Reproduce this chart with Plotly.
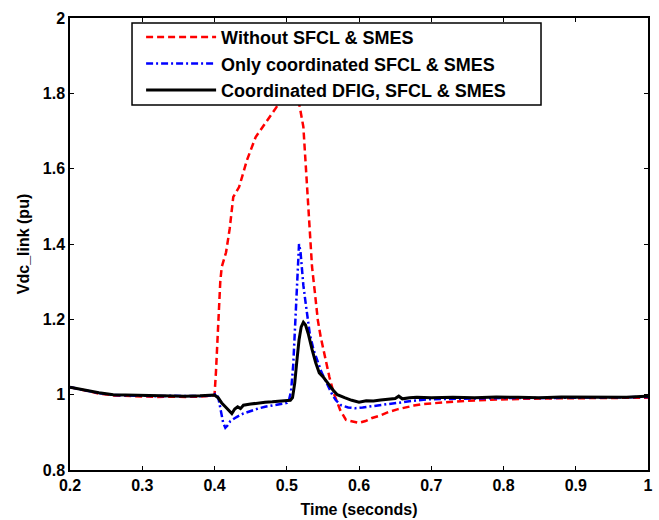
import plotly.graph_objects as go

# ---- data ----
t_red = [0.200, 0.220, 0.240, 0.260, 0.280, 0.300, 0.320, 0.340, 0.360, 0.380, 0.395, 0.400,
         0.402, 0.405, 0.408, 0.410, 0.413, 0.416, 0.421, 0.426, 0.434, 0.445, 0.457, 0.471,
         0.486, 0.495, 0.505, 0.510, 0.514, 0.518, 0.523, 0.529, 0.535, 0.539, 0.543, 0.547,
         0.553, 0.559, 0.565, 0.574, 0.582, 0.591, 0.600, 0.609, 0.618, 0.630, 0.641, 0.653,
         0.665, 0.676, 0.688, 0.705, 0.723, 0.750, 0.776, 0.800, 0.830, 0.860, 0.890, 0.920,
         0.950, 0.975, 1.000]
v_red = [1.020, 1.011, 1.003, 0.998, 0.996, 0.995, 0.994, 0.995, 0.994, 0.995, 0.996, 0.998,
         1.060, 1.200, 1.300, 1.339, 1.360, 1.378, 1.440, 1.525, 1.551, 1.623, 1.684, 1.721,
         1.764, 1.790, 1.820, 1.830, 1.800, 1.764, 1.711, 1.517, 1.339, 1.270, 1.198, 1.153,
         1.100, 1.047, 1.004, 0.959, 0.933, 0.928, 0.925, 0.930, 0.938, 0.945, 0.954, 0.961,
         0.967, 0.971, 0.975, 0.978, 0.981, 0.984, 0.986, 0.988, 0.989, 0.990, 0.990, 0.991,
         0.991, 0.992, 0.992]

t_blue = [0.200, 0.220, 0.240, 0.260, 0.280, 0.300, 0.320, 0.340, 0.360, 0.380, 0.395, 0.400,
          0.403, 0.406, 0.409, 0.412, 0.415, 0.418, 0.422, 0.430, 0.440, 0.450, 0.460, 0.470,
          0.480, 0.490, 0.500, 0.503, 0.506, 0.509, 0.512, 0.515, 0.517, 0.519, 0.521, 0.523,
          0.525, 0.528, 0.532, 0.537, 0.542, 0.548, 0.553, 0.558, 0.563, 0.568, 0.575, 0.585,
          0.595, 0.605, 0.620, 0.640, 0.660, 0.680, 0.700, 0.750, 0.800, 0.850, 0.900, 0.950,
          0.980, 1.000]
v_blue = [1.020, 1.012, 1.004, 0.999, 0.998, 0.997, 0.996, 0.997, 0.996, 0.996, 0.998, 1.000,
          1.003, 0.985, 0.950, 0.925, 0.912, 0.918, 0.930, 0.940, 0.950, 0.957, 0.963, 0.968,
          0.972, 0.975, 0.978, 0.985, 1.010, 1.080, 1.200, 1.330, 1.400, 1.380, 1.320, 1.290,
          1.260, 1.210, 1.160, 1.120, 1.090, 1.060, 1.040, 1.020, 1.000, 0.985, 0.972, 0.966,
          0.964, 0.966, 0.970, 0.975, 0.980, 0.985, 0.988, 0.990, 0.991, 0.991, 0.992, 0.992,
          0.993, 0.994]

t_black = [0.200, 0.220, 0.240, 0.260, 0.280, 0.300, 0.320, 0.340, 0.360, 0.380, 0.395, 0.400,
           0.405, 0.410, 0.415, 0.420, 0.424, 0.428, 0.432, 0.436, 0.440, 0.450, 0.460, 0.470,
           0.480, 0.490, 0.500, 0.505, 0.508, 0.511, 0.514, 0.517, 0.520, 0.523, 0.526, 0.530,
           0.535, 0.540, 0.545, 0.550, 0.555, 0.560, 0.565, 0.570, 0.575, 0.580, 0.590, 0.600,
           0.610, 0.620, 0.630, 0.640, 0.650, 0.655, 0.660, 0.670, 0.680, 0.700, 0.730, 0.760,
           0.790, 0.820, 0.850, 0.880, 0.910, 0.940, 0.970, 0.990, 1.000]
v_black = [1.020, 1.012, 1.005, 1.000, 0.999, 0.998, 0.997, 0.998, 0.996, 0.997, 0.998, 0.999,
           0.992, 0.978, 0.968, 0.958, 0.950, 0.962, 0.968, 0.963, 0.972, 0.975, 0.978, 0.980,
           0.981, 0.982, 0.983, 0.985, 0.992, 1.030, 1.090, 1.145, 1.180, 1.192, 1.185, 1.160,
           1.120, 1.085, 1.058, 1.048, 1.035, 1.022, 1.010, 1.000, 0.995, 0.992, 0.985, 0.980,
           0.984, 0.983, 0.986, 0.988, 0.990, 0.996, 0.989, 0.992, 0.993, 0.992, 0.993, 0.992,
           0.994, 0.993, 0.992, 0.994, 0.993, 0.994, 0.993, 0.995, 0.996]

series_names = ["Without SFCL & SMES", "Only coordinated SFCL & SMES", "Coordinated DFIG, SFCL & SMES"]
x_ticks = [0.2, 0.3, 0.4, 0.5, 0.6, 0.7, 0.8, 0.9, 1.0]
x_ticklabels = ["0.2", "0.3", "0.4", "0.5", "0.6", "0.7", "0.8", "0.9", "1"]
y_ticks = [0.8, 1.0, 1.2, 1.4, 1.6, 1.8, 2.0]
y_ticklabels = ["0.8", "1", "1.2", "1.4", "1.6", "1.8", "2"]

FONT = "Liberation Sans, Arial, sans-serif"

fig = go.Figure()
fig.add_trace(go.Scatter(x=t_red, y=v_red, mode="lines", name=series_names[0],
                         line=dict(color="#ff0000", width=2.5, dash="7px,4px")))
fig.add_trace(go.Scatter(x=t_blue, y=v_blue, mode="lines", name=series_names[1],
                         line=dict(color="#0000ff", width=2.5, dash="7px,3px,2px,3px")))
fig.add_trace(go.Scatter(x=t_black, y=v_black, mode="lines", name=series_names[2],
                         line=dict(color="#000000", width=3)))

axis_common = dict(showline=True, linecolor="black", linewidth=1.5, mirror="ticks",
                   ticks="inside", ticklen=4, tickwidth=1, tickcolor="black",
                   showgrid=False, zeroline=False,
                   tickfont=dict(family=FONT, size=16, color="black", weight="bold"))

fig.update_xaxes(range=[0.2, 1.0], tickvals=x_ticks, ticktext=x_ticklabels,
                 title=dict(text="<b>Time (seconds)</b>", font=dict(family=FONT, size=16, color="black"),
                            standoff=11),
                 **axis_common)
fig.update_yaxes(range=[0.8, 2.0], tickvals=y_ticks, ticktext=y_ticklabels,
                 title=dict(text="<b>Vdc_link (pu)</b>", font=dict(family=FONT, size=16, color="black"),
                            standoff=9),
                 **axis_common)

# legend frame (box drawn as a shape, legend entries on top of it)
fig.add_shape(type="rect", xref="paper", yref="paper",
              x0=0.1073, x1=0.8149, y0=0.8075, y1=0.9889,
              fillcolor="white", line=dict(color="black", width=1.5), layer="above")

fig.update_layout(
    width=659, height=520,
    margin=dict(l=70, r=11, t=18, b=50, autoexpand=False),
    paper_bgcolor="white", plot_bgcolor="white",
    showlegend=True,
    legend=dict(x=0.123, y=0.998, xanchor="left", yanchor="top",
                bgcolor="rgba(0,0,0,0)", borderwidth=0,
                font=dict(family=FONT, size=18, color="black", weight="bold"),
                itemwidth=70, tracegroupgap=0),
)

fig.write_html("out.html")
